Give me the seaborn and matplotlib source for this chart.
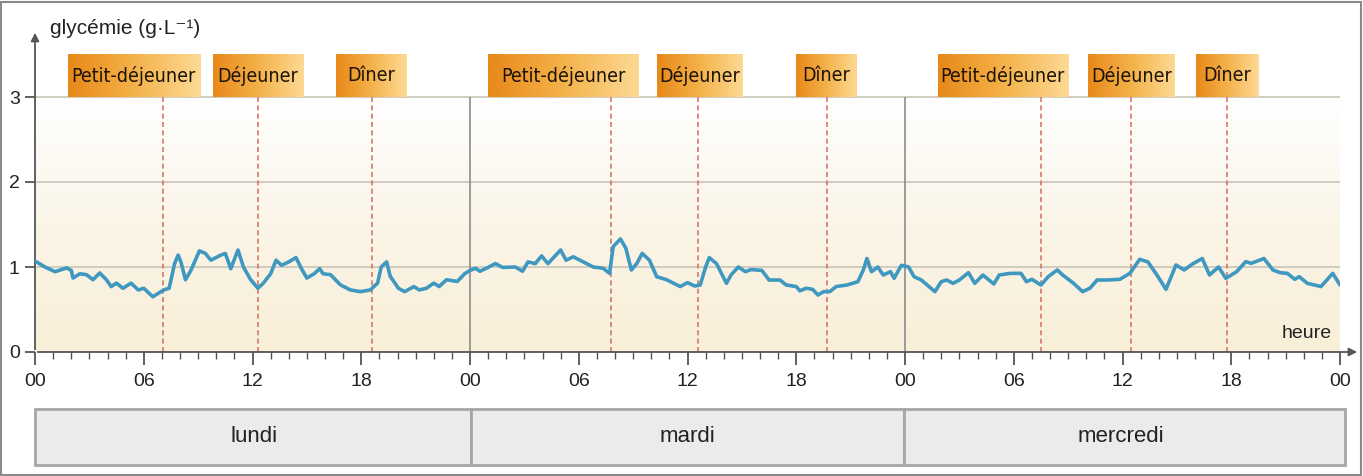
import numpy as np
import seaborn as sns
import matplotlib.pyplot as plt
from matplotlib.patches import Rectangle
from matplotlib.colors import LinearSegmentedColormap

# glycaemia trace over three days (hours since Monday 00:00, g/L)
hours = [0.0, 0.55, 1.1, 1.47, 1.74, 2.0, 2.1, 2.47, 2.84, 3.2, 3.57, 3.94, 4.2, 4.5,
         4.85, 5.3, 5.7, 6.0, 6.5, 6.8, 7.1, 7.4, 7.7, 7.9, 8.05, 8.3, 8.6, 9.07, 9.4,
         9.7, 10.25, 10.5, 10.8, 11.2, 11.5, 11.9, 12.3, 12.6, 13.0, 13.3, 13.6, 14.0,
         14.4, 14.7, 15.0, 15.4, 15.7, 15.9, 16.3, 16.85, 17.4, 17.95, 18.5, 18.9, 19.1,
         19.4, 19.6, 20.05, 20.4, 20.9, 21.2, 21.6, 22.0, 22.3, 22.7, 23.3, 23.7,
         24.0, 24.3, 24.55, 24.9, 25.4, 25.8, 26.5, 26.9, 27.2, 27.6, 27.95, 28.3, 29.0,
         29.3, 29.7, 30.25, 30.8, 31.35, 31.7, 31.9, 32.3, 32.6, 32.9, 33.2, 33.5, 33.9,
         34.3, 34.85, 35.6, 36.0, 36.4, 36.7, 37.0, 37.2, 37.6, 38.15, 38.4, 38.8, 39.2,
         39.5, 40.1, 40.5, 41.1, 41.45, 42.0, 42.2, 42.55, 42.9, 43.2, 43.5, 43.85, 44.2,
         44.8, 45.4, 45.7, 45.9, 46.15, 46.5, 46.8, 47.2, 47.4, 47.8,
         48.2, 48.5, 48.9, 49.65, 50.0, 50.3, 50.65, 51.0, 51.5, 51.85, 52.3, 52.9, 53.2,
         53.8, 54.4, 54.7, 55.0, 55.5, 55.9, 56.4, 56.7, 57.3, 57.8, 58.2, 58.6, 59.1,
         59.85, 60.4, 60.95, 61.4, 61.9, 62.4, 62.95, 63.4, 63.9, 64.4, 64.8, 65.3, 65.7,
         66.3, 66.8, 67.1, 67.8, 68.3, 68.7, 69.1, 69.5, 69.75, 70.2, 70.95, 71.6, 72.0]
glycemia = [1.07, 1.0, 0.945, 0.97, 0.99, 0.96, 0.87, 0.92, 0.91, 0.85, 0.93, 0.85, 0.77,
            0.81, 0.75, 0.81, 0.73, 0.75, 0.65, 0.69, 0.73, 0.75, 1.04, 1.14, 1.06, 0.85,
            0.96, 1.19, 1.16, 1.08, 1.14, 1.16, 0.98, 1.2, 1.0, 0.85, 0.75, 0.81, 0.92,
            1.08, 1.02, 1.06, 1.11, 0.98, 0.87, 0.92, 0.98, 0.92, 0.91, 0.79, 0.73, 0.71,
            0.73, 0.81, 1.0, 1.06, 0.89, 0.75, 0.71, 0.77, 0.73, 0.75, 0.81, 0.77, 0.85,
            0.83, 0.92,
            0.96, 0.985, 0.95, 0.985, 1.04, 0.995, 1.0, 0.95, 1.06, 1.04, 1.13, 1.04, 1.2,
            1.08, 1.12, 1.06, 1.0, 0.985, 0.925, 1.24, 1.33, 1.22, 0.965, 1.04, 1.16, 1.08,
            0.886, 0.85, 0.77, 0.816, 0.776, 0.788, 1.0, 1.11, 1.04, 0.808, 0.906, 1.0,
            0.945, 0.97, 0.96, 0.847, 0.847, 0.788, 0.77, 0.72, 0.75, 0.737, 0.67, 0.71,
            0.71, 0.77, 0.788, 0.827, 0.965, 1.1, 0.945, 1.0, 0.906, 0.945, 0.867, 1.02,
            1.0, 0.886, 0.847, 0.71, 0.827, 0.847, 0.808, 0.847, 0.933, 0.808, 0.906, 0.8,
            0.906, 0.925, 0.925, 0.827, 0.855, 0.788, 0.886, 0.965, 0.906, 0.808, 0.71,
            0.75, 0.847, 0.847, 0.855, 0.925, 1.09, 1.06, 0.906, 0.737, 1.024, 0.965, 1.04,
            1.1, 0.906, 1.0, 0.867, 0.945, 1.063, 1.043, 1.1, 0.965, 0.933, 0.925, 0.855,
            0.886, 0.808, 0.77, 0.925, 0.788]

days = ["lundi", "mardi", "mercredi"]
meal_names = ["Petit-déjeuner", "Déjeuner", "Dîner"] * 3
meal_times = [7.05, 12.3, 18.6, 31.8, 36.6, 43.7, 55.5, 60.45, 65.75]
box_start = [1.8, 9.8, 16.6, 25.0, 34.3, 42.0, 49.8, 58.1, 64.05]
box_end = [9.1, 14.8, 20.5, 33.3, 39.0, 45.35, 57.0, 62.9, 67.5]
hour_ticks = list(range(0, 73, 6))
hour_labels = [f"{h % 24:02d}" for h in hour_ticks]

sns.set_style("white")
plt.rcParams['font.family'] = ['Liberation Sans', 'DejaVu Sans']

W, H = 1363, 476
fig = plt.figure(figsize=(W / 100, H / 100), dpi=100)
ax = fig.add_axes([35 / W, 1 - 352 / H, 1305 / W, 322 / H])

axis_col = '#555555'
txt_col = '#222222'

# cream background gradient
cream = LinearSegmentedColormap.from_list('cream', ['#f8efd8', '#fbf5e8', '#ffffff'])
ax.imshow(np.linspace(0, 1, 256).reshape(-1, 1), extent=[0, 72, 0, 3], origin='lower',
          cmap=cream, aspect='auto', zorder=0)

# grid and separators
for g in [1, 2, 3]:
    ax.axhline(g, color='#cdc8bd', lw=1.3, zorder=1)
ax.vlines([24, 48], 0, 3, color='#8c8c8c', lw=1.2, zorder=1)
ax.vlines(meal_times, 0, 3, colors='#d27a66', linestyles=(0, (3, 2)), lw=1.2, zorder=2)

sns.lineplot(x=hours, y=glycemia, ax=ax, color='#3f98c0', lw=2.6, zorder=5,
             solid_joinstyle='round', solid_capstyle='round')

# meal boxes
orange = LinearSegmentedColormap.from_list('orange', ['#e8891a', '#f4b24a', '#fdd993'])
for name, s, e in zip(meal_names, box_start, box_end):
    ax.imshow(np.linspace(0, 1, 64).reshape(1, -1), extent=[s, e, 3, 3.5],
              cmap=orange, aspect='auto', zorder=3)
    ax.text((s + e) / 2, 3.25, name, ha='center', va='center', fontsize=14,
            color='#1e1408', family='DejaVu Sans', stretch='condensed', zorder=4)

ax.set_xlim(0, 72)
ax.set_ylim(0, 322 / 85)

# axes with arrows
for sp in ax.spines.values():
    sp.set_visible(False)
ax.annotate('', xy=(0, 322 / 85), xytext=(0, 0), annotation_clip=False,
            arrowprops=dict(arrowstyle='-|>', color=axis_col, lw=1.3, mutation_scale=12))
ax.annotate('', xy=(73.1, 0), xytext=(0, 0), annotation_clip=False,
            arrowprops=dict(arrowstyle='-|>', color=axis_col, lw=1.3, mutation_scale=12))

ax.set_xticks(hour_ticks)
ax.set_xticklabels(hour_labels)
ax.set_xticks(range(0, 73), minor=True)
ax.set_yticks([0, 1, 2, 3])
ax.tick_params(axis='x', which='major', length=9, width=1.3, color=axis_col,
               labelsize=14, labelcolor=txt_col, pad=6, bottom=True)
ax.tick_params(axis='x', which='minor', length=5, width=1.0, color=axis_col, bottom=True)
ax.tick_params(axis='y', which='major', length=7, width=1.3, color=axis_col,
               labelsize=14, labelcolor=txt_col, pad=4, left=True)
ax.grid(False)

ax.text(71.55, 0.22, 'heure', ha='right', va='center', fontsize=14, color=txt_col)
fig.text(50 / W, 1 - 28 / H, 'glycémie (g·L⁻¹)', va='center', fontsize=15, color=txt_col)

# day panel
ax2 = fig.add_axes([33 / W, 1 - 467 / H, 1314 / W, 60 / H])
x0, x1 = -0.11, 72.39
ax2.bar([x0, 24, 48], [1, 1, 1], width=[24 - x0, 24, x1 - 48], align='edge',
        color='#ebebeb', edgecolor='#a6a6a6', linewidth=2)
for i, d in enumerate(days):
    ax2.text(12 + 24 * i, 0.5, d, ha='center', va='center', fontsize=16, color=txt_col)
ax2.set_xlim(x0 - 0.1, x1 + 0.1)
ax2.set_ylim(-0.03, 1.03)
ax2.axis('off')

fig.add_artist(Rectangle((1 / W, 1 / H), 1360 / W, 473 / H, transform=fig.transFigure,
                         fill=False, edgecolor='#8a8a8a', lw=1.5))

fig.savefig('out.png', dpi=100)
